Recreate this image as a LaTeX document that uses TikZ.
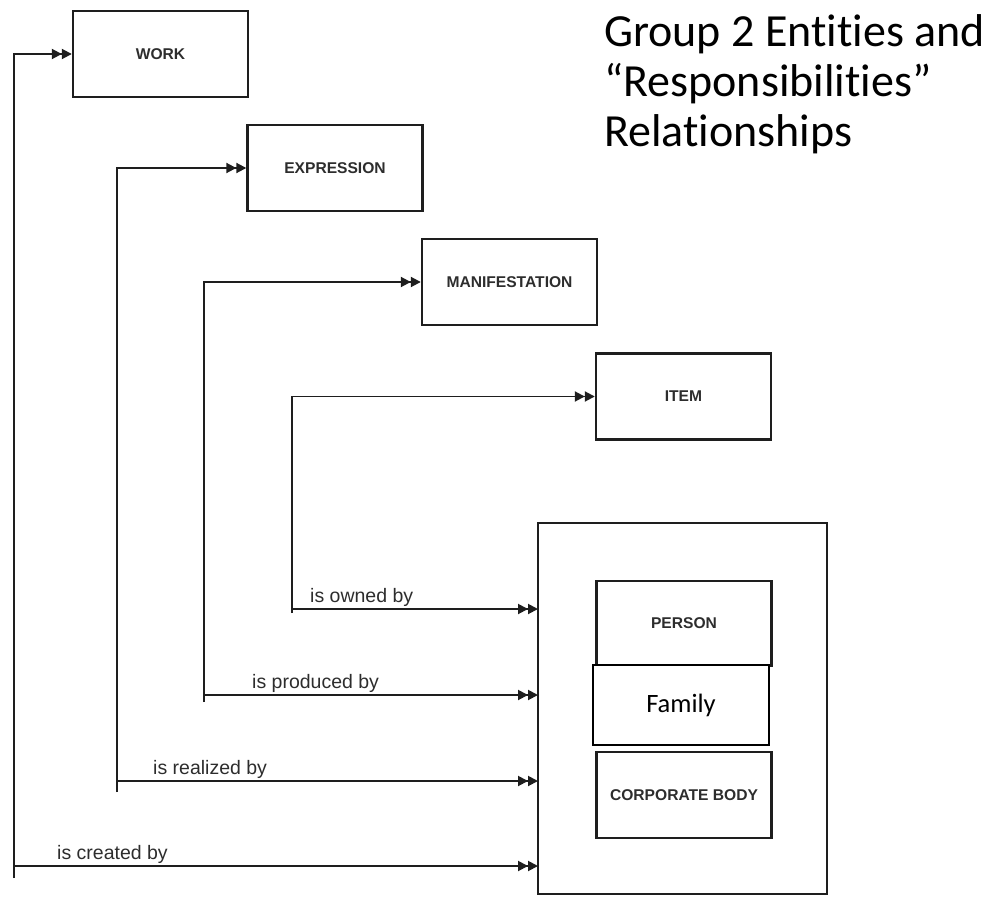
\documentclass[tikz,border=0pt]{standalone}
\usepackage{fontspec}
\setmainfont{Liberation Sans}
\newfontfamily\calibri[Ligatures=NoCommon]{Carlito}
\usepackage{tikz}
\usetikzlibrary{arrows.meta}
\definecolor{ink}{RGB}{30,30,30}
\definecolor{txt}{RGB}{45,45,45}
\newcommand{\dbltip}{{Triangle[length=10pt,width=10pt]Triangle[length=10pt,width=10pt]}}
\tikzset{
  entity/.style={draw=ink, line width=2.4pt, minimum width=175pt, minimum height=86pt,
    inner sep=0pt, font=\fontsize{15.6}{17}\selectfont\bfseries, text=txt},
  link/.style={draw=ink, line width=1.9pt, -\dbltip},
  lab/.style={anchor=base west, inner sep=0pt, font=\fontsize{19.5}{22}\selectfont, text=txt}
}
\begin{document}
\begin{tikzpicture}[x=1pt,y=-1pt]
\useasboundingbox (0,0) rectangle (998,899);
% the four work-side entities
\node[entity] (work) at (160.5,54) {WORK};
\node[entity] (expr) at (335,168) {EXPRESSION};
\node[entity] (manif) at (509.5,282) {MANIFESTATION};
\node[entity] (item) at (683.5,396.5) {ITEM};
% group 2 entities
\draw[ink, line width=2.8pt] (538,523) rectangle (827,894);
\node[entity, minimum height=85pt] (person) at (684,623.5) {PERSON};
\node[entity, minimum height=86pt] (corp) at (684,795) {CORPORATE BODY};
\node[draw=black, line width=1.6pt, minimum width=176pt, minimum height=80pt, fill=white,
  font=\calibri\fontsize{26.5}{28}\selectfont] (family) at (681,705) {Family};
\coordinate (grp) at (538,700);
% trunks
\coordinate (v1) at (14,878);
\coordinate (v2) at (117,792);
\coordinate (v3) at (204,702);
\coordinate (v4) at (292,613);
\draw[link] (v1) |- (work.west);
\draw[link] (v2) |- (expr.west);
\draw[link] (v3) |- (manif.west);
\draw[link] (v4) |- (item.west);
\coordinate (a1) at (14,866);
\coordinate (a2) at (117,781);
\coordinate (a3) at (204,695);
\coordinate (a4) at (292,609);
\draw[link] (a1) -- (a1 -| grp);
\draw[link] (a2) -- (a2 -| grp);
\draw[link] (a3) -- (a3 -| grp);
\draw[link] (a4) -- (a4 -| grp);
\node[lab] (lcreated) at ([shift={(43,-7)}]a1) {is created by};
\node[lab] (lrealized) at ([shift={(36,-7)}]a2) {is realized by};
\node[lab] (lproduced) at ([shift={(48,-7)}]a3) {is produced by};
\node[lab] (lowned) at ([shift={(18,-7)}]a4) {is owned by};
% title
\node[anchor=north west, inner sep=0pt, align=left, font=\calibri\fontsize{46}{50}\selectfont]
  (title) at (604,14) {Group 2 Entities and\\“Responsibilities”\\Relationships};
\end{tikzpicture}
\end{document}
